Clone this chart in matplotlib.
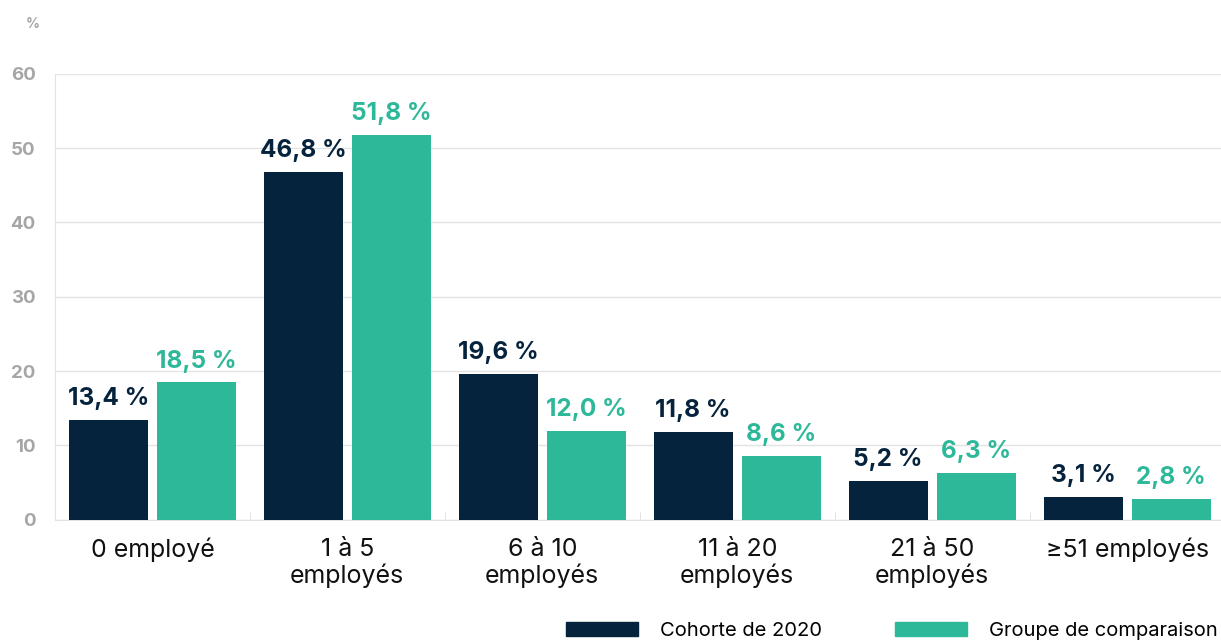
import numpy as np
import matplotlib.pyplot as plt
from matplotlib.patches import Patch

plt.rcParams['font.family'] = ['Inter', 'DejaVu Sans']

# données
categories = ["0 employé", "1 à 5\nemployés", "6 à 10\nemployés",
              "11 à 20\nemployés", "21 à 50\nemployés", "≥51 employés"]
cohorte_2020 = [13.4, 46.8, 19.6, 11.8, 5.2, 3.1]
groupe_comparaison = [18.5, 51.8, 12.0, 8.6, 6.3, 2.8]
series_names = ["Cohorte de 2020", "Groupe de comparaison"]

navy = "#06233d"
teal = "#2db899"
grey = "#a6a6a6"

fig = plt.figure(figsize=(12.21, 6.41), dpi=100)
ax = fig.add_axes([0.045, 0.189, 0.958, 0.696])

x = np.arange(len(categories))
w = 0.405
off = 0.226
b1 = ax.bar(x - off, cohorte_2020, w, color=navy, zorder=3)
b2 = ax.bar(x + off, groupe_comparaison, w, color=teal, zorder=3)

def fmt(v):
    return f"{v:.1f} %".replace(".", ",")

for bars, vals, col in [(b1, cohorte_2020, navy), (b2, groupe_comparaison, teal)]:
    for r, v in zip(bars, vals):
        ax.annotate(fmt(v), (r.get_x() + r.get_width() / 2, v),
                    xytext=(0, 7), textcoords="offset points",
                    ha="center", va="bottom", fontsize=17.5,
                    fontweight="bold", color=col)

ax.set_xlim(-0.5, len(categories) - 0.5)
ax.set_ylim(0, 60)
ax.set_yticks(range(0, 61, 10))
ax.tick_params(axis="y", length=0, pad=14, labelsize=13.5, labelcolor=grey)
for t in ax.get_yticklabels():
    t.set_fontweight("bold")
ax.grid(axis="y", color="#e3e3e3", linewidth=1, zorder=0)

ax.set_xticks(x)
ax.set_xticklabels(categories, fontsize=18, color="#111111", linespacing=1.12)
ax.tick_params(axis="x", length=0, pad=13)
# petits repères entre les groupes
ax.set_xticks(np.arange(0.5, len(categories) - 0.5, 1), minor=True)
ax.tick_params(axis="x", which="minor", length=6, direction="in", color="#dddddd")

for s in ["top", "right"]:
    ax.spines[s].set_visible(False)
ax.spines["left"].set_color("#e3e3e3")
ax.spines["bottom"].set_color("#e3e3e3")

fig.text(0.027, 0.962, "%", fontsize=10, color=grey, fontweight="bold",
         ha="center", va="center")

handles = [Patch(color=navy), Patch(color=teal)]
fig.legend(handles, series_names, loc="center left", bbox_to_anchor=(0.4636, 0.0156),
           ncol=2, frameon=False, fontsize=14.5, handlelength=3.58, handleheight=0.65,
           columnspacing=3.6, handletextpad=1.1, borderpad=0, borderaxespad=0)

fig.savefig("out.png", dpi=100)
